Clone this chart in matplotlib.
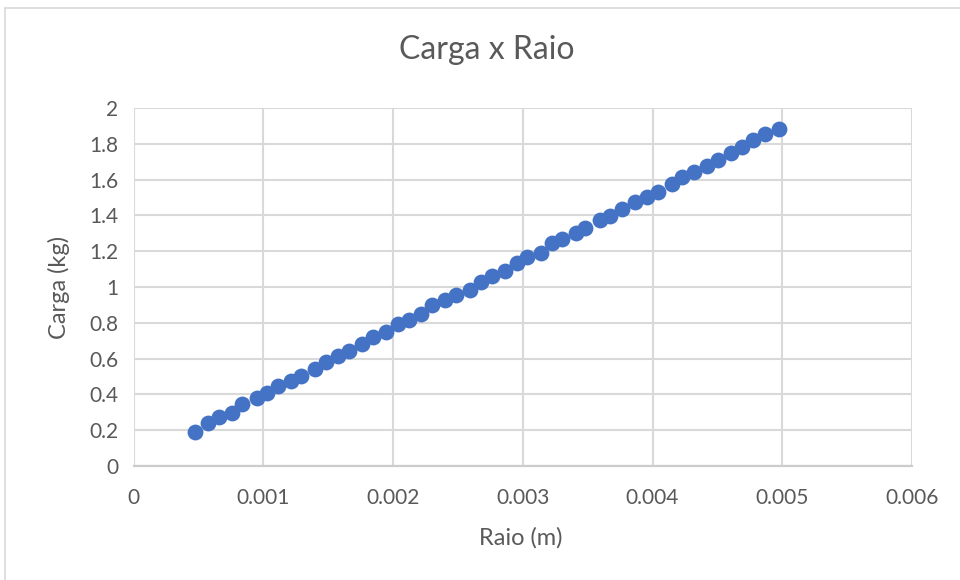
import matplotlib
matplotlib.use("Agg")
import matplotlib.pyplot as plt
from matplotlib.lines import Line2D

# Data (x in metres, y in kg)
raio_mm = [0.473, 0.575, 0.659, 0.762, 0.839, 0.952, 1.028, 1.113, 1.216, 1.293,
           1.395, 1.480, 1.574, 1.664, 1.762, 1.849, 1.946, 2.035, 2.120, 2.215,
           2.304, 2.402, 2.484, 2.592, 2.676, 2.766, 2.861, 2.958, 3.035, 3.138,
           3.227, 3.304, 3.407, 3.483, 3.599, 3.676, 3.765, 3.868, 3.957, 4.041,
           4.149, 4.226, 4.316, 4.418, 4.503, 4.606, 4.687, 4.777, 4.867, 4.975]
carga = [0.192, 0.242, 0.272, 0.298, 0.347, 0.378, 0.406, 0.447, 0.477, 0.503,
         0.541, 0.583, 0.615, 0.645, 0.682, 0.719, 0.751, 0.794, 0.816, 0.850,
         0.900, 0.925, 0.956, 0.984, 1.030, 1.064, 1.090, 1.133, 1.167, 1.192,
         1.245, 1.267, 1.301, 1.329, 1.375, 1.397, 1.435, 1.477, 1.502, 1.533,
         1.576, 1.617, 1.645, 1.677, 1.710, 1.748, 1.781, 1.822, 1.856, 1.882]
raio = [v / 1000.0 for v in raio_mm]

x_ticks = [0, 0.001, 0.002, 0.003, 0.004, 0.005, 0.006]
x_tick_labels = ["0", "0.001", "0.002", "0.003", "0.004", "0.005", "0.006"]
y_ticks = [0, 0.2, 0.4, 0.6, 0.8, 1.0, 1.2, 1.4, 1.6, 1.8, 2.0]
y_tick_labels = ["0", "0.2", "0.4", "0.6", "0.8", "1", "1.2", "1.4", "1.6", "1.8", "2"]

title = "Carga x Raio"
xlabel = "Raio (m)"
ylabel = "Carga (kg)"

plt.rcParams['font.family'] = ['Lato', 'DejaVu Sans']
text_color = "#595959"
grid_color = "#d9d9d9"

fig = plt.figure(figsize=(9.6, 5.8), dpi=100)
fig.patch.set_facecolor("white")

# chart area border (left and top edges visible)
fig.add_artist(Line2D([4.5/960, 4.5/960], [0, 1 - 8/580], transform=fig.transFigure,
                      color="#d9d9d9", lw=1.2))
fig.add_artist(Line2D([4.5/960, 1], [1 - 8/580, 1 - 8/580], transform=fig.transFigure,
                      color="#d9d9d9", lw=1.2))

ax = fig.add_axes([133.5/960, 1 - 466/580, (912 - 133.5)/960, (466 - 108)/580])
ax.set_xlim(0, 0.006)
ax.set_ylim(0, 2)
ax.set_xticks(x_ticks)
ax.set_xticklabels(x_tick_labels)
ax.set_yticks(y_ticks)
ax.set_yticklabels(y_tick_labels)
ax.grid(True, color=grid_color, lw=1.5)
ax.set_axisbelow(True)
for s in ["top", "right", "left"]:
    ax.spines[s].set_visible(False)
ax.spines["bottom"].set_color("#cccccc")
ax.spines["bottom"].set_linewidth(1.6)
ax.tick_params(axis="both", length=0, colors=text_color, labelsize=15)
ax.tick_params(axis="x", pad=16)
ax.tick_params(axis="y", pad=11)

ax.scatter(raio, carga, s=130, color="#4472C4", zorder=3, linewidths=0)

fig.text(521/960, 1 - 538/580, xlabel, ha="center", va="center",
         fontsize=17, color=text_color)
fig.text(59/960, 1 - 287/580, ylabel, ha="center", va="center",
         rotation=90, fontsize=17, color=text_color)
fig.text(487/960, 1 - 50/580, title, ha="center", va="center",
         fontsize=23, color=text_color)

fig.savefig("out.png", dpi=100, facecolor="white")
